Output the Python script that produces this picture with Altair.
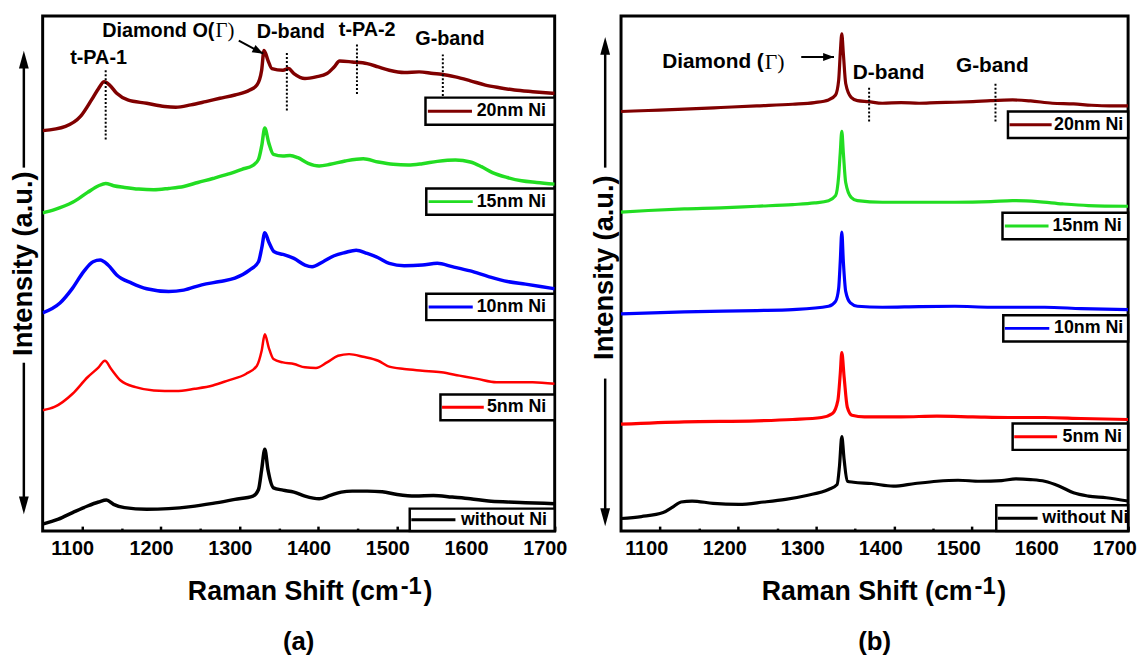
import altair as alt
import pandas as pd

FONT = "Liberation Sans"
SERIF = "Liberation Serif"

SERIES = ["20nm Ni", "15nm Ni", "10nm Ni", "5nm Ni", "without Ni"]
COLORS = ["#800000", "#22dd22", "#0000ff", "#ff0000", "#000000"]

# ---------------- panel (a): Raman shift (cm-1) / stacked intensity (a.u.)
a20_x = [1050,1079,1098,1112,1121,1128,1135,1144,1158,1182,1205,1219,1238,1257,1275,1294,1313,1322,1328,1331,1336,1341,1355,1362,1369,1383,1397,1411,1420,1427,1443,1462,1476,1490,1509,1528,1546,1556,1574,1593,1612,1630,1649,1672,1700]
a20_y = [1213,1226,1256,1306,1341,1361,1351,1326,1306,1296,1286,1284,1291,1301,1311,1321,1336,1351,1396,1456,1426,1401,1396,1401,1386,1371,1376,1386,1406,1424,1421,1416,1406,1396,1389,1391,1386,1384,1376,1364,1351,1343,1336,1331,1326]

a15_x = [1050,1065,1088,1107,1121,1130,1140,1154,1172,1191,1210,1229,1247,1266,1285,1303,1317,1324,1328,1332,1337,1343,1355,1364,1374,1387,1401,1415,1434,1457,1476,1495,1514,1532,1551,1574,1593,1607,1621,1640,1658,1677,1700]
a15_y = [964,974,996,1026,1046,1053,1046,1041,1036,1034,1038,1044,1056,1068,1081,1096,1108,1126,1166,1221,1176,1141,1136,1138,1131,1114,1106,1111,1121,1128,1118,1111,1109,1113,1120,1124,1118,1104,1086,1071,1061,1056,1051]

a10_x = [1050,1072,1088,1102,1114,1123,1133,1144,1163,1182,1210,1229,1252,1275,1294,1313,1324,1328,1332,1337,1344,1355,1369,1383,1392,1406,1420,1434,1448,1462,1476,1490,1509,1532,1551,1570,1593,1616,1640,1663,1682,1700]
a10_y = [661,691,736,786,816,821,806,776,751,734,726,730,746,756,766,791,816,856,904,876,846,838,826,806,801,816,834,844,851,841,828,811,804,806,811,801,788,771,756,748,741,734]

a05_x = [1050,1065,1088,1107,1121,1129,1137,1149,1168,1191,1219,1243,1266,1285,1308,1322,1328,1332,1337,1343,1355,1369,1383,1397,1411,1425,1439,1457,1476,1490,1509,1532,1556,1579,1602,1626,1649,1672,1700]
a05_y = [366,376,416,466,496,516,491,456,436,426,424,431,441,456,476,501,546,596,556,521,511,506,496,494,511,531,536,528,516,498,491,486,481,471,461,451,451,451,446]

a00_x = [1050,1070,1088,1107,1121,1131,1140,1154,1182,1210,1238,1266,1294,1317,1324,1328,1332,1336,1343,1355,1369,1383,1401,1415,1429,1443,1462,1481,1500,1523,1546,1570,1593,1616,1640,1663,1700]
a00_y = [21,36,56,76,88,94,81,71,66,68,74,84,96,106,126,186,248,186,131,124,118,106,98,108,118,121,121,119,111,106,108,103,98,91,88,86,83]

# ---------------- panel (b)
b20_x = [1050,1085,1131,1178,1224,1270,1298,1316,1325,1329,1331,1333,1335,1338,1345,1353,1367,1385,1409,1432,1455,1478,1501,1524,1552,1575,1603,1630,1653,1676,1700]
b20_y = [1271,1274,1278,1283,1288,1293,1298,1306,1321,1366,1446,1506,1446,1356,1314,1304,1301,1296,1298,1296,1298,1299,1301,1304,1306,1303,1296,1294,1290,1288,1288]

b15_x = [1050,1085,1131,1178,1224,1270,1298,1316,1325,1329,1331,1333,1335,1338,1345,1353,1385,1432,1478,1524,1552,1584,1616,1649,1700]
b15_y = [966,971,976,979,984,989,994,1001,1016,1076,1146,1211,1146,1056,1011,1001,996,996,996,998,1001,998,991,986,984]

b10_x = [1050,1131,1224,1270,1316,1325,1329,1331,1333,1335,1338,1344,1353,1385,1432,1478,1524,1593,1640,1700]
b10_y = [658,664,668,671,681,696,736,816,906,816,726,691,681,678,680,681,678,678,674,671]

b05_x = [1050,1131,1224,1270,1307,1321,1328,1331,1333,1336,1340,1346,1362,1409,1455,1501,1547,1593,1640,1700]
b05_y = [324,331,334,338,344,356,396,476,541,466,376,351,346,346,348,346,344,344,341,338]

b00_x = [1050,1076,1104,1115,1127,1141,1168,1201,1233,1261,1288,1316,1327,1330,1333,1336,1340,1348,1371,1399,1427,1455,1482,1510,1538,1556,1575,1593,1612,1630,1649,1672,1700]
b00_y = [38,44,56,71,88,91,84,81,88,96,108,126,141,196,286,216,151,148,144,136,144,151,154,151,153,158,156,151,136,116,106,101,91]

TICKS_MAJOR = [1100, 1200, 1300, 1400, 1500, 1600, 1700]
TICKS_MINOR = [1150, 1250, 1350, 1450, 1550, 1650]

# ---------------- annotation layout (data coordinates)
# legend boxes: box left, box bottom, box top, sample start, sample end, text start
LEG_A = [(1536, 1231, 1313, 1539, 1595, 1601),
         (1537, 958, 1038, 1540, 1596, 1601),
         (1537, 639, 719, 1540, 1596, 1601),
         (1555, 336, 414, 1557, 1610, 1614),
         (1516, 0, 68, 1518, 1574, 1581)]
LEG_B = [(1546, 1191, 1271, 1548, 1602, 1605),
         (1539, 884, 964, 1542, 1598, 1603),
         (1540, 574, 654, 1542, 1599, 1605),
         (1552, 246, 326, 1554, 1609, 1616),
         (1531, 0, 78, 1533, 1584, 1590)]

LABELS_A = [("t-PA-1", 1121, 1433), ("D-band", 1365, 1511), ("t-PA-2", 1462, 1518),
            ("G-band", 1567, 1491)]
DIAMOND_A = ("Diamond O(", "Γ)", 1268, 1516)
DOTS_A = [(1130, 1186, 1401), (1360, 1274, 1448), (1449, 1324, 1478), (1558, 1318, 1448)]
ARROW_A = (1299, 1486, 1330, 1446, 118)

LABELS_B = [("D-band", 1393, 1386), ("G-band", 1526, 1408)]
DIAMOND_B = ("Diamond (", "Γ)", 1233, 1421)
DOTS_B = [(1368, 1241, 1346), (1530, 1241, 1356)]
ARROW_B = (1281, 1436, 1323, 1436, 90)

XDOM = [1050, 1700]
YDOM = [0, 1560]


def panel(xs, ys, widths, leg, labels, diamond, dots, arrow, w, h, label_offset,
          title_shift, label_size, side_arrows, side_x, ytitle_y, tag):
    xsc = alt.Scale(domain=XDOM, nice=False, zero=False)
    ysc = alt.Scale(domain=YDOM, nice=False, zero=False)
    csc = alt.Scale(domain=SERIES, range=COLORS)

    rows = []
    for name, x, y, sw in zip(SERIES, xs, ys, widths):
        for xi, yi in zip(x, y):
            rows.append({"series": name, "shift": xi, "intensity": yi, "w": sw})
    df = pd.DataFrame(rows)

    major = alt.Axis(values=TICKS_MAJOR, orient="bottom", offset=-5, tickSize=5, format="d",
                     tickWidth=2.5, tickColor="black", domain=False, grid=False,
                     labelFont=FONT, labelFontSize=20, labelFontWeight="bold",
                     labelColor="black", labelPadding=8, labelOffset=label_offset,
                     labelFlush=False, labelOverlap=False, title=None)
    minor = alt.Axis(values=TICKS_MINOR, orient="bottom", offset=-3, tickSize=3,
                     tickWidth=2.5, tickColor="black", domain=False, grid=False,
                     labels=False, title=None)

    lines = alt.Chart(df).mark_line(clip=True, strokeJoin="round", interpolate="monotone").encode(
        x=alt.X("shift:Q", scale=xsc, axis=major),
        y=alt.Y("intensity:Q", scale=ysc, axis=None),
        color=alt.Color("series:N", scale=csc, legend=None),
        strokeWidth=alt.StrokeWidth("w:Q", scale=None),
        order=alt.Order("shift:Q"),
    )

    ldf = pd.DataFrame([{"series": s, "bx1": b[0], "bx2": XDOM[1], "by1": b[1], "by2": b[2],
                         "lx1": b[3], "lx2": b[4], "tx": b[5], "ym": (b[1] + b[2]) / 2}
                        for s, b in zip(SERIES, leg)])
    boxes = alt.Chart(ldf).mark_rect(fill="white", stroke="black", strokeWidth=2.5).encode(
        x=alt.X("bx1:Q", scale=xsc, axis=None), x2="bx2:Q",
        y=alt.Y("by1:Q", scale=ysc, axis=None), y2="by2:Q")
    samples = alt.Chart(ldf).mark_rule(strokeWidth=3).encode(
        x=alt.X("lx1:Q", scale=xsc, axis=None), x2="lx2:Q",
        y=alt.Y("ym:Q", scale=ysc, axis=None),
        color=alt.Color("series:N", scale=csc, legend=None))
    ltext = alt.Chart(ldf).mark_text(align="left", baseline="middle", font=FONT,
                                     fontSize=18, fontWeight="bold", color="black").encode(
        x=alt.X("tx:Q", scale=xsc, axis=None), y=alt.Y("ym:Q", scale=ysc, axis=None),
        text="series:N")

    ddf = pd.DataFrame([{"dx": d[0], "dy1": d[1], "dy2": d[2]} for d in dots])
    dotted = alt.Chart(ddf).mark_rule(strokeDash=[2, 2], strokeWidth=2, color="black").encode(
        x=alt.X("dx:Q", scale=xsc, axis=minor),
        y=alt.Y("dy1:Q", scale=ysc, axis=None), y2="dy2:Q")

    tdf = pd.DataFrame([{"t": t[0], "tx": t[1], "ty": t[2]} for t in labels])
    atext = alt.Chart(tdf).mark_text(align="center", baseline="middle", font=FONT,
                                     fontSize=label_size, fontWeight="bold", color="black").encode(
        x=alt.X("tx:Q", scale=xsc, axis=None), y=alt.Y("ty:Q", scale=ysc, axis=None),
        text="t:N")

    ddia = pd.DataFrame([{"s": diamond[0], "g": diamond[1], "tx": diamond[2], "ty": diamond[3]}])
    dia1 = alt.Chart(ddia).mark_text(align="right", baseline="middle", font=FONT,
                                     fontSize=label_size, fontWeight="bold", color="black").encode(
        x=alt.X("tx:Q", scale=xsc, axis=None), y=alt.Y("ty:Q", scale=ysc, axis=None), text="s:N")
    dia2 = alt.Chart(ddia).mark_text(align="left", baseline="middle", font=SERIF, dx=1,
                                     fontSize=label_size + 1, color="black").encode(
        x=alt.X("tx:Q", scale=xsc, axis=None), y=alt.Y("ty:Q", scale=ysc, axis=None), text="g:N")

    adf = pd.DataFrame([{"x1": arrow[0], "y1": arrow[1], "x2": arrow[2], "y2": arrow[3]}])
    arule = alt.Chart(adf).mark_rule(strokeWidth=2, color="black").encode(
        x=alt.X("x1:Q", scale=xsc, axis=None), y=alt.Y("y1:Q", scale=ysc, axis=None),
        x2="x2:Q", y2="y2:Q")
    ahead = alt.Chart(adf).mark_point(shape="M0,0L0.75,2L-0.75,2Z", filled=True, size=121,
                                      angle=arrow[4], color="black", opacity=1).encode(
        x=alt.X("x2:Q", scale=xsc, axis=None), y=alt.Y("y2:Q", scale=ysc, axis=None))

    one = pd.DataFrame({"t": ["Intensity (a.u.)"], "m": ["Raman Shift (cm"],
                        "sup": ["-1"], "cl": [")"]})
    ytitle = alt.Chart(one).mark_text(angle=270, align="center", baseline="middle", font=FONT,
                                      fontSize=27.5, fontWeight="bold", color="black").encode(
        x=alt.value(side_x), y=alt.value(ytitle_y), text="t:N")

    c = w / 2 + title_shift
    xt_main = alt.Chart(one).mark_text(align="right", baseline="alphabetic", font=FONT,
                                       fontSize=27, fontWeight="bold", color="black").encode(
        x=alt.value(c + 86), y=alt.value(h + 70), text="m:N")
    xt_sup = alt.Chart(one).mark_text(align="left", baseline="alphabetic", font=FONT,
                                      fontSize=24, fontWeight="bold", color="black").encode(
        x=alt.value(c + 88), y=alt.value(h + 64), text="sup:N")
    xt_close = alt.Chart(one).mark_text(align="left", baseline="alphabetic", font=FONT,
                                        fontSize=27, fontWeight="bold", color="black").encode(
        x=alt.value(c + 111), y=alt.value(h + 70), text="cl:N")

    up_y1, up_tip, dn_y1, dn_tip = side_arrows
    up_line = alt.Chart(one).mark_rule(strokeWidth=2.5, color="black").encode(
        x=alt.value(side_x), y=alt.value(up_y1), y2=alt.value(up_tip + 10))
    up_head = alt.Chart(one).mark_point(shape="M0,0L0.55,2L-0.55,2Z", filled=True, size=324,
                                        color="black", opacity=1).encode(
        x=alt.value(side_x), y=alt.value(up_tip))
    dn_line = alt.Chart(one).mark_rule(strokeWidth=2.5, color="black").encode(
        x=alt.value(side_x), y=alt.value(dn_y1), y2=alt.value(dn_tip - 10))
    dn_head = alt.Chart(one).mark_point(shape="M0,0L0.55,-2L-0.55,-2Z", filled=True, size=324,
                                        color="black", opacity=1).encode(
        x=alt.value(side_x), y=alt.value(dn_tip))

    return alt.layer(lines, dotted, boxes, samples, ltext, atext, dia1, dia2, arule, ahead,
                     ytitle, xt_main, xt_sup, xt_close,
                     up_line, up_head, dn_line, dn_head).resolve_axis(x="independent").properties(
        width=w, height=h,
        title=alt.TitleParams(tag, orient="bottom", font=FONT, fontSize=26, fontWeight="bold",
                              color="black", offset=24))


pa = panel([a20_x, a15_x, a10_x, a05_x, a00_x], [a20_y, a15_y, a10_y, a05_y, a00_y],
           [3.5, 3.5, 3.5, 2.5, 3.5], LEG_A, LABELS_A, DIAMOND_A, DOTS_A, ARROW_A, 517, 520,
           -10, 15, 20, (153, 35, 350, 503), -19, 250, "(a)")
pb = panel([b20_x, b15_x, b10_x, b05_x, b00_x], [b20_y, b15_y, b10_y, b05_y, b00_y],
           [3.2, 3.2, 3.2, 3.2, 3.2], LEG_B, LABELS_B, DIAMOND_B, DOTS_B, ARROW_B, 512, 520,
           -14, 13, 21, (153, 21, 366, 515), -16, 254, "(b)")

chart = alt.hconcat(pa, pb, spacing=67, bounds="flush").properties(
    padding={"left": 0, "top": 3, "right": 0, "bottom": 0},
    background="white",
).configure_view(stroke="black", strokeWidth=3)

chart.save("out.html", embed_options={"renderer": "svg", "actions": False})
